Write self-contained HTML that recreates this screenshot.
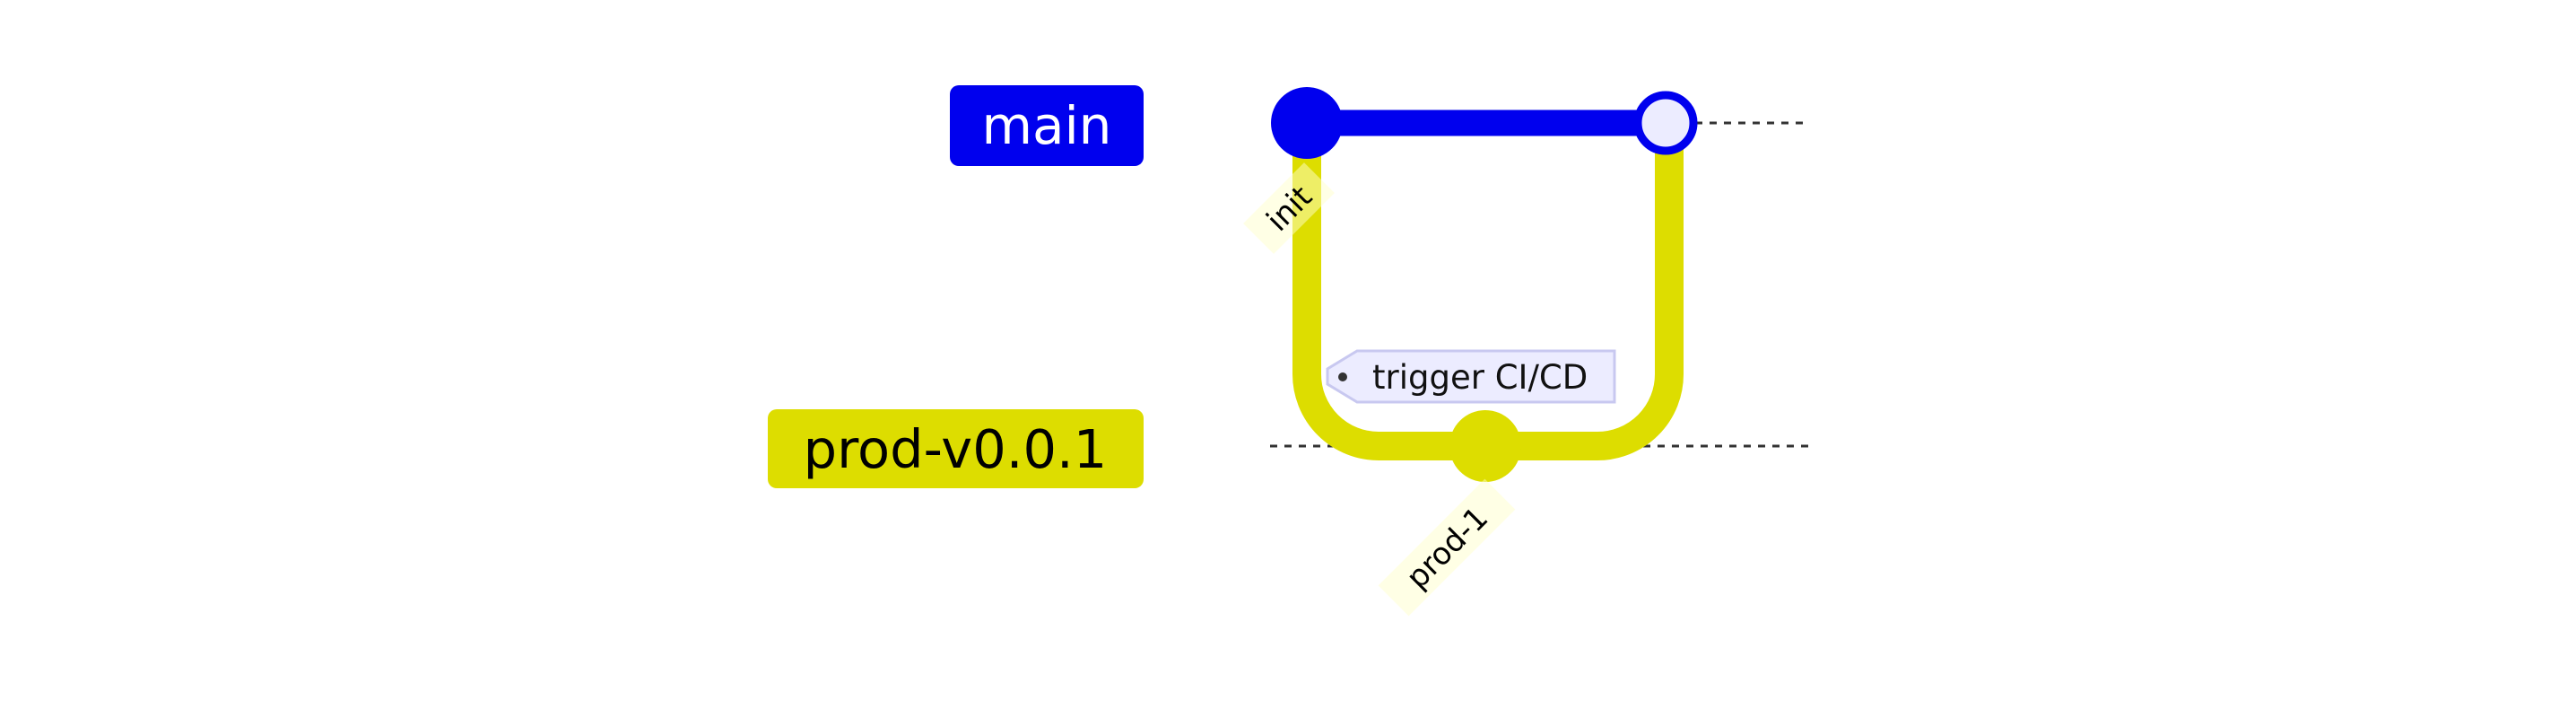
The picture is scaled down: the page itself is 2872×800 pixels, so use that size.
<!DOCTYPE html>
<html><head><meta charset="utf-8"><style>
html,body{margin:0;padding:0;background:#fff;}
svg{display:block;}
text{font-family:"DejaVu Sans","Liberation Sans",sans-serif;}
</style></head><body>
<svg width="2872" height="800" viewBox="0 0 2872 800" xmlns="http://www.w3.org/2000/svg">
<!-- dashed lines -->
<line x1="1890" y1="137" x2="2016" y2="137" stroke="#333" stroke-width="3" stroke-dasharray="8,8"/>
<line x1="1416" y1="497" x2="2016" y2="497" stroke="#333" stroke-width="3" stroke-dasharray="8,8"/>
<!-- labels -->
<rect x="1059" y="95" width="216" height="90" rx="10" fill="#0000ee"/>
<text x="1167" y="160" font-size="58" fill="#fff" text-anchor="middle">main</text>
<rect x="856" y="456" width="419" height="88" rx="10" fill="#dddd00"/>
<text x="1065" y="521" font-size="59" fill="#000" text-anchor="middle">prod-v0.0.1</text>
<!-- yellow branch -->
<path d="M1457 137 V417 A80 80 0 0 0 1537 497 H1781 A80 80 0 0 0 1861 417 V137" fill="none" stroke="#dddd00" stroke-width="32"/>
<!-- blue main line -->
<line x1="1457" y1="137" x2="1857" y2="137" stroke="#0000ee" stroke-width="29"/>
<circle cx="1457" cy="137" r="40" fill="#0000ee"/>
<circle cx="1857" cy="137" r="31" fill="#ececff" stroke="#0000ee" stroke-width="9"/>
<circle cx="1656" cy="497" r="40" fill="#dddd00"/>
<!-- tag -->
<path d="M1513 391 H1800 V448 H1513 L1480 428 V411 Z" fill="#ececff" stroke="#c8c8f0" stroke-width="3"/>
<circle cx="1497" cy="420" r="5" fill="#333"/>
<text x="1530" y="433" font-size="37" fill="#111">trigger CI/CD</text>
<!-- init label -->
<g transform="translate(1437,232) rotate(-45)">
<rect x="-48" y="-24" width="96" height="48" fill="#ffffcc" opacity="0.5"/>
<text x="0" y="12" font-size="34" fill="#000" text-anchor="middle">init</text>
</g>
<g transform="translate(1613,610) rotate(-45)">
<rect x="-84" y="-24" width="168" height="48" fill="#ffffcc" opacity="0.5"/>
<text x="0" y="12" font-size="34" fill="#000" text-anchor="middle">prod-1</text>
</g>
</svg>
</body></html>
